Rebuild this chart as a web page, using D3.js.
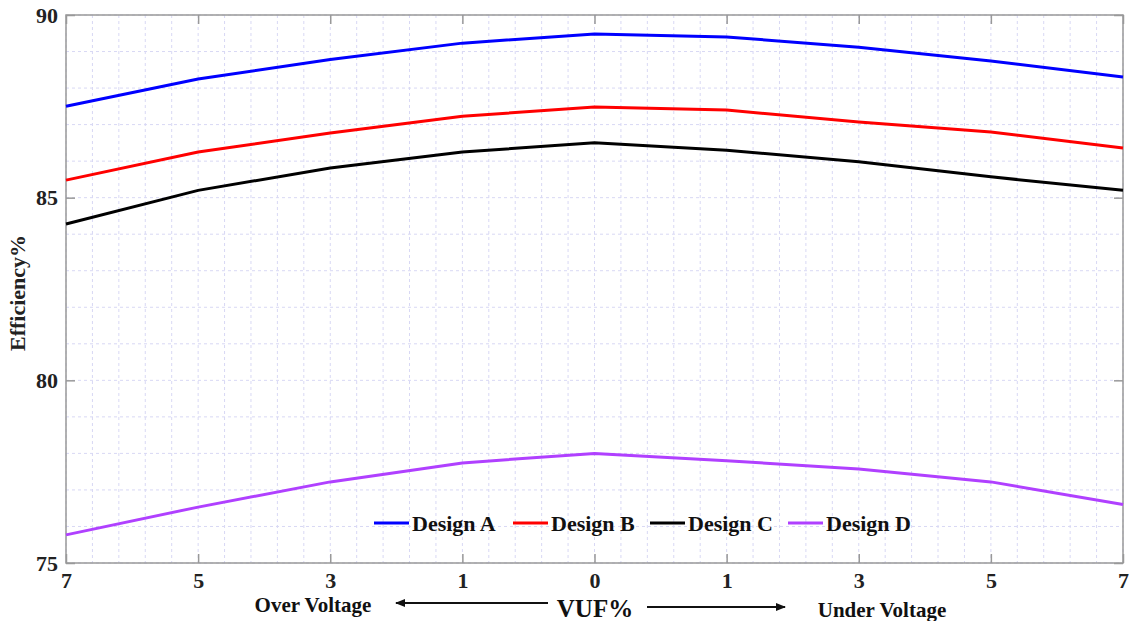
<!DOCTYPE html>
<html><head><meta charset="utf-8">
<script src="https://cdn.jsdelivr.net/npm/d3@7"></script>
<style>body{margin:0;background:#fff}svg{display:block}text{font-family:"Liberation Serif","Times New Roman",serif;font-weight:bold}</style>
</head><body><svg id="c" width="1130" height="621"></svg>
<script>
const categories = ["7","5","3","1","0","1","3","5","7"];
const designA = [87.5, 88.25, 88.78, 89.23, 89.48, 89.4, 89.12, 88.74, 88.3];
const designB = [85.48, 86.25, 86.77, 87.23, 87.48, 87.4, 87.07, 86.8, 86.36];
const designC = [84.28, 85.2, 85.81, 86.25, 86.5, 86.3, 85.98, 85.57, 85.2];
const designD = [75.77, 76.53, 77.22, 77.74, 78.0, 77.8, 77.57, 77.22, 76.6];
const seriesNames = ["Design A","Design B","Design C","Design D"];
const seriesColors = ["#0000ff","#ff0000","#000000","#b040ff"];
const yTicks = [75, 80, 85, 90];

const series = [designA, designB, designC, designD];
const svg = d3.select("#c");
const L = 66, R = 1123, T = 15, B = 563;
const x = d3.scaleLinear().domain([0, categories.length - 1]).range([L, R]);
const y = d3.scaleLinear().domain([75, 90]).range([B, T]);

// grid (minor: 5 subdivisions in x, 1 unit in y)
const g = svg.append("g");
const xg = d3.range(0, categories.length - 1 + 1e-9, 0.2);
g.selectAll(".vx").data(xg).join("line")
  .attr("x1", d => x(d)).attr("x2", d => x(d)).attr("y1", T).attr("y2", B)
  .attr("stroke", "#d8d8f4").attr("stroke-width", 1).attr("stroke-dasharray", "3,3");
g.selectAll(".hy").data(d3.range(75, 90.01, 1)).join("line")
  .attr("x1", L).attr("x2", R).attr("y1", d => y(d)).attr("y2", d => y(d))
  .attr("stroke", "#d8d8f4").attr("stroke-width", 1).attr("stroke-dasharray", "3,3");

// box
svg.append("rect").attr("x", L).attr("y", T).attr("width", R - L).attr("height", B - T)
  .attr("fill", "none").attr("stroke", "#999").attr("stroke-width", 1.5);

// axes
const xAxis = d3.axisBottom(x).tickValues(d3.range(categories.length))
  .tickFormat(i => categories[i]).tickSize(-9).tickPadding(9);
const xa = svg.append("g").attr("transform", `translate(0,${B})`).call(xAxis);
xa.select(".domain").remove();
xa.selectAll("line").attr("stroke", "#999").attr("stroke-width", 1.5);
xa.selectAll("text").attr("font-size", 22).attr("fill", "#222")
  .style("font-family", "Liberation Serif").style("font-weight", "bold");

const xTop = d3.axisTop(x).tickValues(d3.range(categories.length)).tickSize(-9).tickFormat("");
const xt = svg.append("g").attr("transform", `translate(0,${T})`).call(xTop);
xt.select(".domain").remove();
xt.selectAll("line").attr("stroke", "#999").attr("stroke-width", 1.5);

const yAxis = d3.axisLeft(y).tickValues(yTicks).tickSize(-9).tickPadding(8);
const ya = svg.append("g").attr("transform", `translate(${L},0)`).call(yAxis);
ya.select(".domain").remove();
ya.selectAll("line").attr("stroke", "#999").attr("stroke-width", 1.5);
ya.selectAll("text").attr("font-size", 22).attr("fill", "#222")
  .style("font-family", "Liberation Serif").style("font-weight", "bold");
const yR = d3.axisRight(y).tickValues(yTicks).tickSize(-9).tickFormat("");
const yr = svg.append("g").attr("transform", `translate(${R},0)`).call(yR);
yr.select(".domain").remove();
yr.selectAll("line").attr("stroke", "#999").attr("stroke-width", 1.5);

// lines
const line = d3.line().x((d, i) => x(i)).y(d => y(d));
series.forEach((s, k) => {
  svg.append("path").datum(s).attr("d", line).attr("fill", "none")
    .attr("stroke", seriesColors[k]).attr("stroke-width", 3);
});

// legend
const legX = [374, 513, 650, 788];
const lg = svg.append("g");
seriesNames.forEach((n, k) => {
  lg.append("line").attr("x1", legX[k]).attr("x2", legX[k] + 35).attr("y1", 523).attr("y2", 523)
    .attr("stroke", seriesColors[k]).attr("stroke-width", 3);
  lg.append("text").attr("x", legX[k] + 38).attr("y", 531).attr("font-size", 22)
    .attr("fill", "#111").text(n);
});

// y label
svg.append("text").attr("transform", "translate(25,293) rotate(-90)").attr("text-anchor", "middle")
  .attr("font-size", 22).attr("fill", "#222").text("Efficiency%");

// x labels
svg.append("text").attr("x", 313).attr("y", 612).attr("text-anchor", "middle").attr("font-size", 21)
  .attr("fill", "#111").text("Over Voltage");
svg.append("text").attr("x", 882).attr("y", 617).attr("text-anchor", "middle").attr("font-size", 21)
  .attr("fill", "#111").text("Under Voltage");
svg.append("text").attr("x", 595).attr("y", 617).attr("text-anchor", "middle").attr("font-size", 25)
  .attr("fill", "#111").text("VUF%");

// arrows
const defs = svg.append("defs");
defs.append("marker").attr("id", "ah").attr("viewBox", "0 0 10 10").attr("refX", 9).attr("refY", 5)
  .attr("markerWidth", 5).attr("markerHeight", 5).attr("orient", "auto")
  .append("path").attr("d", "M0,1 L10,5 L0,9 Z").attr("fill", "#111");
svg.append("line").attr("x1", 548).attr("x2", 396).attr("y1", 603).attr("y2", 603)
  .attr("stroke", "#111").attr("stroke-width", 2).attr("marker-end", "url(#ah)");
svg.append("line").attr("x1", 647).attr("x2", 785).attr("y1", 607).attr("y2", 607)
  .attr("stroke", "#111").attr("stroke-width", 2).attr("marker-end", "url(#ah)");
</script></body></html>
